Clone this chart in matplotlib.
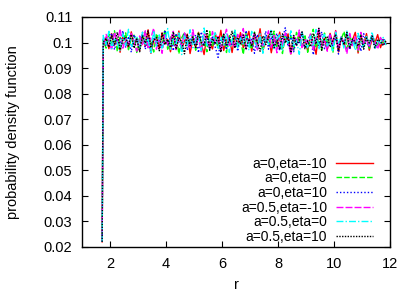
import numpy as np
import matplotlib
matplotlib.use('Agg')
import matplotlib.pyplot as plt
from matplotlib.ticker import FuncFormatter

plt.rcParams['font.family'] = ['Liberation Sans', 'DejaVu Sans']
plt.rcParams['font.size'] = 10

# sampling points in r (first point is the step at the inner edge)
r_first = 1.72
r_grid = np.linspace(1.76, 11.86, 102)
r = np.concatenate([[r_first], r_grid])
p_first = 0.022

p_a0_em10 = [
    0.0984, 0.1021, 0.0976, 0.1035, 0.0990, 0.1014, 0.0962, 0.1028, 0.1003, 0.0979,
    0.1042, 0.0992, 0.1017, 0.0968, 0.1031, 0.0985, 0.1050, 0.0958, 0.1008, 0.1024,
    0.0977, 0.1038, 0.0994, 0.1012, 0.0964, 0.1026, 0.0988, 0.1045, 0.0973, 0.1006,
    0.1033, 0.0957, 0.1015, 0.0983, 0.1040, 0.0997, 0.0953, 0.1027, 0.1002, 0.0975,
    0.1036, 0.0989, 0.1048, 0.0969, 0.1011, 0.1020, 0.0961, 0.1030, 0.0986, 0.1039,
    0.0980, 0.1009, 0.1044, 0.0966, 0.1023, 0.0993, 0.1054, 0.0971, 0.1004, 0.1029,
    0.0960, 0.1018, 0.0988, 0.1041, 0.0976, 0.1007, 0.1034, 0.0955, 0.1022, 0.0991,
    0.1037, 0.0982, 0.1013, 0.0967, 0.1028, 0.1000, 0.0954, 0.1043, 0.0990, 0.1016,
    0.0972, 0.1036, 0.0996, 0.1047, 0.0963, 0.1020, 0.0985, 0.1032, 0.0978, 0.1010,
    0.1040, 0.0959, 0.1024, 0.0992, 0.1035, 0.0970, 0.1016, 0.0998, 0.1031, 0.0980,
    0.1012, 0.0994]

p_a0_e0 = [
    0.1010, 0.0978, 0.1034, 0.0988, 0.1046, 0.0966, 0.1020, 0.0994, 0.1038, 0.0972,
    0.1016, 0.1029, 0.0958, 0.1024, 0.0998, 0.1042, 0.0980, 0.1012, 0.0963, 0.1035,
    0.1004, 0.0986, 0.1050, 0.0974, 0.1022, 0.0992, 0.1031, 0.0956, 0.1018, 0.1040,
    0.0984, 0.1008, 0.1026, 0.0970, 0.1037, 0.0996, 0.1014, 0.0964, 0.1044, 0.0988,
    0.1022, 0.0976, 0.1006, 0.1033, 0.0961, 0.1027, 0.0992, 0.1048, 0.0982, 0.1012,
    0.0954, 0.1036, 0.1002, 0.0974, 0.1041, 0.0990, 0.1020, 0.0968, 0.1030, 0.1000,
    0.0984, 0.1045, 0.0978, 0.1016, 0.0957, 0.1034, 0.0994, 0.1024, 0.0972, 0.1040,
    0.1008, 0.0986, 0.1031, 0.0962, 0.1018, 0.1052, 0.0980, 0.1010, 0.0970, 0.1037,
    0.0996, 0.1022, 0.0960, 0.1033, 0.0988, 0.1014, 0.1043, 0.0976, 0.1026, 0.0992,
    0.1004, 0.0966, 0.1035, 0.0984, 0.1020, 0.0974, 0.1030, 0.1002, 0.0990, 0.1018,
    0.0996, 0.1008]

p_a0_e10 = [
    0.1020, 0.0986, 0.1008, 0.1037, 0.0972, 0.1016, 0.0994, 0.1046, 0.0980, 0.1024,
    0.0962, 0.1031, 0.1002, 0.0988, 0.1040, 0.0974, 0.1018, 0.0957, 0.1028, 0.0998,
    0.1012, 0.0978, 0.1049, 0.0990, 0.1022, 0.0968, 0.1035, 0.1004, 0.0984, 0.1038,
    0.0970, 0.1014, 0.0996, 0.1030, 0.0960, 0.1042, 0.0992, 0.1020, 0.0976, 0.1026,
    0.0982, 0.0942, 0.1010, 0.1033, 0.0972, 0.1018, 0.0990, 0.1040, 0.0966, 0.1024,
    0.0998, 0.1047, 0.0980, 0.1012, 0.0958, 0.1032, 0.1002, 0.0986, 0.1044, 0.0974,
    0.1022, 0.0992, 0.1036, 0.0968, 0.1014, 0.1058, 0.0984, 0.1028, 0.0964, 0.1016,
    0.0994, 0.1040, 0.0978, 0.1010, 0.1030, 0.0952, 0.1020, 0.0988, 0.1042, 0.0976,
    0.1006, 0.1034, 0.0982, 0.1018, 0.0955, 0.1024, 0.0996, 0.1038, 0.0972, 0.1012,
    0.0990, 0.1026, 0.0966, 0.1035, 0.1000, 0.0984, 0.1022, 0.0974, 0.1010, 0.0994,
    0.1016, 0.1002]

p_a05_em10 = [
    0.0984, 0.1032, 0.1006, 0.0970, 0.1041, 0.0996, 0.1054, 0.0978, 0.1014, 0.0988,
    0.1036, 0.1004, 0.0966, 0.1026, 0.0992, 0.1046, 0.0980, 0.1018, 0.1056, 0.0974,
    0.1022, 0.0958, 0.1030, 0.0994, 0.1012, 0.1044, 0.0972, 0.1020, 0.0986, 0.1038,
    0.1002, 0.0976, 0.1050, 0.0990, 0.1016, 0.0964, 0.1034, 0.1006, 0.0982, 0.1043,
    0.0998, 0.1024, 0.0970, 0.1012, 0.1052, 0.0988, 0.1008, 0.0978, 0.1032, 0.0994,
    0.1055, 0.0974, 0.1018, 0.0996, 0.1040, 0.0968, 0.1022, 0.0986, 0.1010, 0.1046,
    0.0980, 0.1028, 0.0960, 0.1016, 0.0992, 0.1038, 0.1002, 0.0952, 0.1026, 0.0990,
    0.1049, 0.0976, 0.1014, 0.0998, 0.1034, 0.0972, 0.1020, 0.1053, 0.0984, 0.1008,
    0.0966, 0.1030, 0.0994, 0.1044, 0.0978, 0.1018, 0.1004, 0.0956, 0.1036, 0.0988,
    0.1022, 0.0970, 0.1040, 0.0996, 0.1012, 0.0982, 0.1028, 0.1006, 0.0974, 0.1020,
    0.0992, 0.1004]

p_a05_e0 = [
    0.1028, 0.0992, 0.1044, 0.0976, 0.1018, 0.1002, 0.0966, 0.1034, 0.0988, 0.1052,
    0.0982, 0.1012, 0.1024, 0.0972, 0.1040, 0.0994, 0.1016, 0.0960, 0.1047, 0.0986,
    0.1030, 0.0978, 0.1006, 0.1055, 0.0970, 0.1020, 0.0996, 0.1038, 0.0953, 0.1026,
    0.0990, 0.1050, 0.0980, 0.1008, 0.1032, 0.0968, 0.1057, 0.0984, 0.1014, 0.0998,
    0.1042, 0.0974, 0.1022, 0.0988, 0.1036, 0.0962, 0.1010, 0.1048, 0.0980, 0.1018,
    0.0992, 0.1028, 0.0970, 0.1044, 0.1000, 0.0982, 0.1034, 0.0958, 0.1024, 0.0994,
    0.1053, 0.0976, 0.1012, 0.1030, 0.0968, 0.1020, 0.0996, 0.1046, 0.0984, 0.1008,
    0.0954, 0.1038, 0.1002, 0.0980, 0.1026, 0.0990, 0.1051, 0.0972, 0.1016, 0.1032,
    0.0986, 0.1006, 0.0964, 0.1040, 0.0998, 0.1022, 0.0976, 0.1045, 0.0988, 0.1014,
    0.0970, 0.1036, 0.1000, 0.0982, 0.1024, 0.0992, 0.1042, 0.0978, 0.1010, 0.0996,
    0.1020, 0.0990]

p_a05_e10 = [
    0.1002, 0.1016, 0.0982, 0.1026, 0.0994, 0.1040, 0.0972, 0.1010, 0.1022, 0.0986,
    0.1032, 0.0978, 0.1014, 0.0964, 0.1028, 0.0998, 0.1046, 0.0984, 0.1008, 0.1020,
    0.0968, 0.1036, 0.0992, 0.1012, 0.0980, 0.1042, 0.0974, 0.1018, 0.1004, 0.0956,
    0.1030, 0.0988, 0.1022, 0.0976, 0.1038, 0.1000, 0.0986, 0.1050, 0.0970, 0.1016,
    0.0994, 0.1024, 0.0962, 0.1032, 0.0990, 0.1008, 0.1044, 0.0978, 0.1020, 0.0996,
    0.1030, 0.0972, 0.1014, 0.0986, 0.1038, 0.1002, 0.0966, 0.1026, 0.0992, 0.1018,
    0.1048, 0.0980, 0.1010, 0.0974, 0.1034, 0.0998, 0.1022, 0.0960, 0.1028, 0.0988,
    0.1012, 0.1042, 0.0976, 0.1006, 0.0984, 0.1036, 0.0994, 0.1056, 0.0970, 0.1016,
    0.1024, 0.0982, 0.1008, 0.1032, 0.0968, 0.1020, 0.0992, 0.1040, 0.0978, 0.1014,
    0.1002, 0.0986, 0.1030, 0.0974, 0.1018, 0.0998, 0.1026, 0.0980, 0.1012, 0.1004,
    0.0988, 0.1008]

labels = ['a=0,eta=-10', 'a=0,eta=0', 'a=0,eta=10',
          'a=0.5,eta=-10', 'a=0.5,eta=0', 'a=0.5,eta=10']
series = [p_a0_em10, p_a0_e0, p_a0_e10, p_a05_em10, p_a05_e0, p_a05_e10]
colors = ['#ff0000', '#00ff00', '#0000ff', '#ff00ff', '#00ffff', '#000000']
dashes = [None, (4, 1.5), (1, 1.5), (5, 1.5), (5, 1.5, 1, 1.5), (1, 1)]

fig = plt.figure(figsize=(4.15, 2.91), dpi=100)
ax = fig.add_axes([82/415, 1-247/291, 308/415, 230/291])

for vals, lab, col, ds in zip(series, labels, colors, dashes):
    y = np.concatenate([[p_first], vals])
    line, = ax.plot(r, y, color=col, lw=1.0, label=lab)
    if ds is not None:
        line.set_dashes(ds)

ax.set_xlim(1, 12)
ax.set_ylim(0.02, 0.11)
ax.set_xticks([2, 4, 6, 8, 10, 12])
ax.set_yticks([0.02, 0.03, 0.04, 0.05, 0.06, 0.07, 0.08, 0.09, 0.1, 0.11])
ax.yaxis.set_major_formatter(FuncFormatter(lambda v, p: '%g' % round(v, 3)))
ax.tick_params(direction='in', top=True, right=True, length=4, width=0.8,
               labelsize=10.5)
ax.tick_params(axis='x', pad=7.5)
ax.tick_params(axis='y', pad=7)
for s in ax.spines.values():
    s.set_linewidth(1.0)

ax.set_xlabel('r', fontsize=10.5, labelpad=5)
ax.set_ylabel('probability density function', fontsize=10.5, labelpad=17)

ax.legend(loc='lower right', bbox_to_anchor=(373/415, 1-244/291),
          bbox_transform=fig.transFigure, frameon=False, markerfirst=False,
          fontsize=10, labelspacing=0.05, handlelength=2.7,
          handletextpad=0.6, borderpad=0, borderaxespad=0)

fig.savefig('out.png', dpi=100)
